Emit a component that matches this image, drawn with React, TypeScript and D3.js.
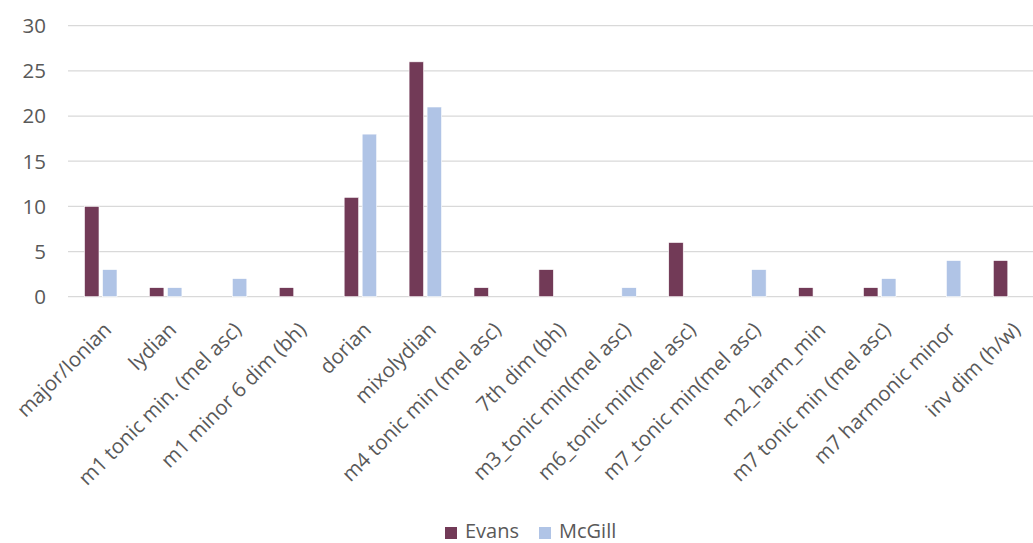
import React from "react";
import * as d3 from "d3";

const categories = [
  "major/Ionian",
  "lydian",
  "m1 tonic min. (mel asc)",
  "m1 minor 6 dim (bh)",
  "dorian",
  "mixolydian",
  "m4 tonic min (mel asc)",
  "7th dim (bh)",
  "m3_tonic min(mel asc)",
  "m6_tonic min(mel asc)",
  "m7_tonic min(mel asc)",
  "m2_harm_min",
  "m7 tonic min (mel asc)",
  "m7 harmonic minor",
  "inv dim (h/w)",
];
const evans = [10, 1, 0, 1, 11, 26, 1, 3, 0, 6, 0, 1, 1, 0, 4];
const mcgill = [3, 1, 2, 0, 18, 21, 0, 0, 1, 0, 3, 0, 2, 4, 0];
const yTicks = [0, 5, 10, 15, 20, 25, 30];
const seriesNames = ["Evans", "McGill"];
const colors = ["#723A57", "#B0C4E6"];

const W = 1033;
const H = 543;
const FONT = "'Open Sans', sans-serif";
const TEXT = "#595959";

export default function App() {
  const x = d3.scaleBand<string>().domain(categories).range([68.3, 1042]).padding(0);
  const y = d3.scaleLinear().domain([0, 30]).range([296.7, 25.7]);
  const barW = 14.5;
  const gap = 3.5;
  const series = [evans, mcgill];

  return (
    <svg
      width={W}
      height={H}
      style={{ position: "absolute", left: 0, top: 0, background: "#fff" }}
      fontFamily={FONT}
    >
      <rect width={W} height={H} fill="#fff" />
      {yTicks.map((t) => (
        <g key={t}>
          <line x1={68} x2={W} y1={y(t)} y2={y(t)} stroke="#D9D9D9" strokeWidth={1.3} />
          <text x={46} y={y(t)} dy="0.36em" textAnchor="end" fontSize={20.5} fill={TEXT}>
            {t}
          </text>
        </g>
      ))}
      {categories.map((c, i) => {
        const cx = (x(c) as number) + x.bandwidth() / 2;
        return (
          <g key={c}>
            {series.map((s, si) => {
              const v = s[i];
              if (!v) return null;
              const bx = si === 0 ? cx - gap / 2 - barW : cx + gap / 2;
              return (
                <rect
                  key={si}
                  x={bx}
                  y={y(v)}
                  width={barW}
                  height={y(0) - y(v)}
                  fill={colors[si]}
                  stroke="#fff"
                  strokeWidth={0.6}
                />
              );
            })}
            <text
              transform={`translate(${cx + 12},${331}) rotate(-45)`}
              textAnchor="end"
              fontSize={20.5}
              fill={TEXT}
            >
              {c}
            </text>
          </g>
        );
      })}
      {seriesNames.map((n, i) => {
        const lx = i === 0 ? 445 : 539;
        return (
          <g key={n}>
            <rect x={lx} y={527} width={12} height={12} fill={colors[i]} />
            <text x={lx + 20} y={537.5} fontSize={20} fill={TEXT}>
              {n}
            </text>
          </g>
        );
      })}
    </svg>
  );
}
